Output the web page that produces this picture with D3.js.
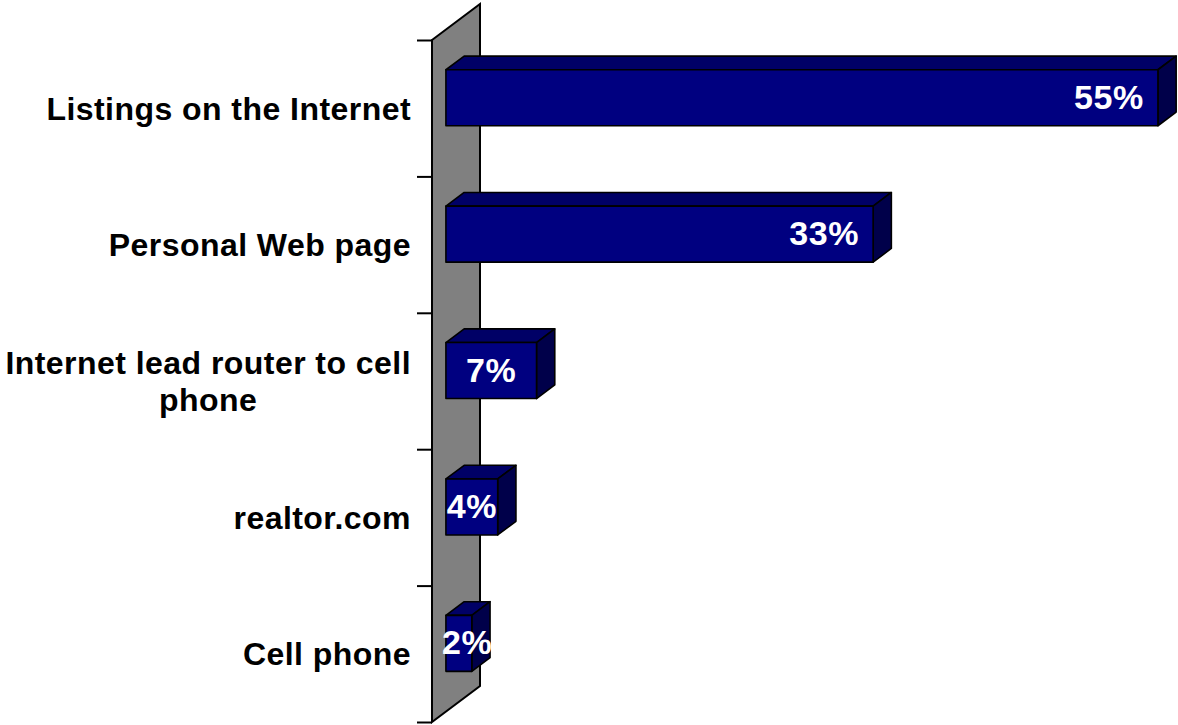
<!DOCTYPE html>
<html>
<head>
<meta charset="utf-8">
<script src="https://cdn.jsdelivr.net/npm/d3@7"></script>
<style>
  html, body { margin: 0; padding: 0; background: #ffffff; }
  svg { display: block; }
</style>
</head>
<body>
<svg id="chart" width="1178" height="725"></svg>
<script>
// Share of respondents by channel
const categories = [
  "Listings on the Internet",
  "Personal Web page",
  "Internet lead router to cell phone",
  "realtor.com",
  "Cell phone"
];
const values = [55, 33, 7, 4, 2];
const valueLabels = ["55%", "33%", "7%", "4%", "2%"];
// wrapped category lines (Excel-style wrapping of long labels)
const labelLines = [
  ["Listings on the Internet"],
  ["Personal Web page"],
  ["Internet lead router to cell", "phone"],
  ["realtor.com"],
  ["Cell phone"]
];

const W = 1178, H = 725;
const svg = d3.select("#chart");

// front-plane geometry
const plotTop = 40, plotBottom = 722, x0 = 432;
const depth = { dx: 48, dy: -36 };          // full depth of the side wall
const barDepth = [0.29, 0.67];               // bars occupy this slice of the depth
const font = "'Liberation Sans', Arial, Helvetica, sans-serif";

const x = d3.scaleLinear().domain([0, 55]).range([x0, x0 + 712]);
const y = d3.scaleBand().domain(categories).range([plotTop, plotBottom]).paddingInner(0).paddingOuter(0);
const edge = d3.scaleLinear().domain([0, categories.length]).range([plotTop, plotBottom]);

const shift = f => [depth.dx * f, depth.dy * f];

// side wall (value = 0 plane)
const wall = [
  [x0, plotTop],
  [x0 + depth.dx, plotTop + depth.dy],
  [x0 + depth.dx, plotBottom + depth.dy],
  [x0, plotBottom]
];
svg.append("polygon")
  .attr("points", wall.map(p => p.join(",")).join(" "))
  .attr("fill", "#808080")
  .attr("stroke", "#000")
  .attr("stroke-width", 2)
  .attr("stroke-linejoin", "miter");

// category axis ticks at band edges
const axis = d3.axisLeft(edge)
  .tickValues(d3.range(categories.length + 1))
  .tickSize(15)
  .tickSizeOuter(0)
  .tickFormat("");
const gAxis = svg.append("g").attr("transform", `translate(${x0},0)`).call(axis);
gAxis.select(".domain").remove();
gAxis.selectAll(".tick line").attr("stroke", "#000").attr("stroke-width", 2);

// 3D bars
const barH = 56;
const [fF, fB] = barDepth;
const [fdx, fdy] = shift(fF);
const [bdx, bdy] = shift(fB);
const ddx = bdx - fdx, ddy = bdy - fdy;

const bars = svg.append("g").selectAll("g.bar")
  .data(categories.map((c, i) => ({ c, v: values[i], label: valueLabels[i] })))
  .join("g").attr("class", "bar");

bars.each(function(d) {
  const g = d3.select(this);
  const cy = y(d.c) + y.bandwidth() / 2;
  const left = x(0) + fdx, right = x(d.v) + fdx;
  const top = cy + fdy - barH / 2, bottom = top + barH;
  const poly = (pts, fill) => g.append("polygon")
    .attr("points", pts.map(p => p.join(",")).join(" "))
    .attr("fill", fill).attr("stroke", "#000").attr("stroke-width", 1.6)
    .attr("stroke-linejoin", "round");
  // top face
  poly([[left, top], [left + ddx, top + ddy], [right + ddx, top + ddy], [right, top]], "#000066");
  // side face
  poly([[right, top], [right + ddx, top + ddy], [right + ddx, bottom + ddy], [right, bottom]], "#00004a");
  // front face
  poly([[left, top], [right, top], [right, bottom], [left, bottom]], "#000080");

  const t = g.append("text")
    .attr("y", top + barH / 2 + 11)
    .attr("fill", "#fff")
    .attr("font-family", font)
    .attr("font-weight", "bold")
    .attr("font-size", 34)
    .attr("letter-spacing", 0.6)
    .attr("text-anchor", "middle")
    .text(d.label);
  const tw = t.node().getComputedTextLength();
  const pad = 14;
  const frontW = right - left;
  let cx;
  if (frontW > tw + 60) cx = right - pad - tw / 2;       // inside end
  else cx = Math.max((left + right) / 2, left + tw / 2 - 4); // centred on short bars
  t.attr("x", cx);
});

// category labels
const labels = svg.append("g").selectAll("g.cat")
  .data(categories.map((c, i) => ({ c, lines: labelLines[i] })))
  .join("g").attr("class", "cat");

const labelRight = 411, lineH = 36.5;
labels.each(function(d) {
  const g = d3.select(this);
  const cy = y(d.c) + y.bandwidth() / 2;
  const n = d.lines.length;
  const texts = d.lines.map((ln, k) => g.append("text")
    .attr("y", cy + 11.5 + (k - (n - 1) / 2) * lineH)
    .attr("font-family", font)
    .attr("font-weight", "bold")
    .attr("font-size", 32)
    .attr("letter-spacing", 0.45)
    .attr("fill", "#000")
    .text(ln));
  if (n === 1) {
    texts[0].attr("x", labelRight).attr("text-anchor", "end");
  } else {
    const maxW = d3.max(texts, t => t.node().getComputedTextLength());
    texts.forEach(t => t.attr("x", labelRight - maxW / 2).attr("text-anchor", "middle"));
  }
});
</script>
</body>
</html>
